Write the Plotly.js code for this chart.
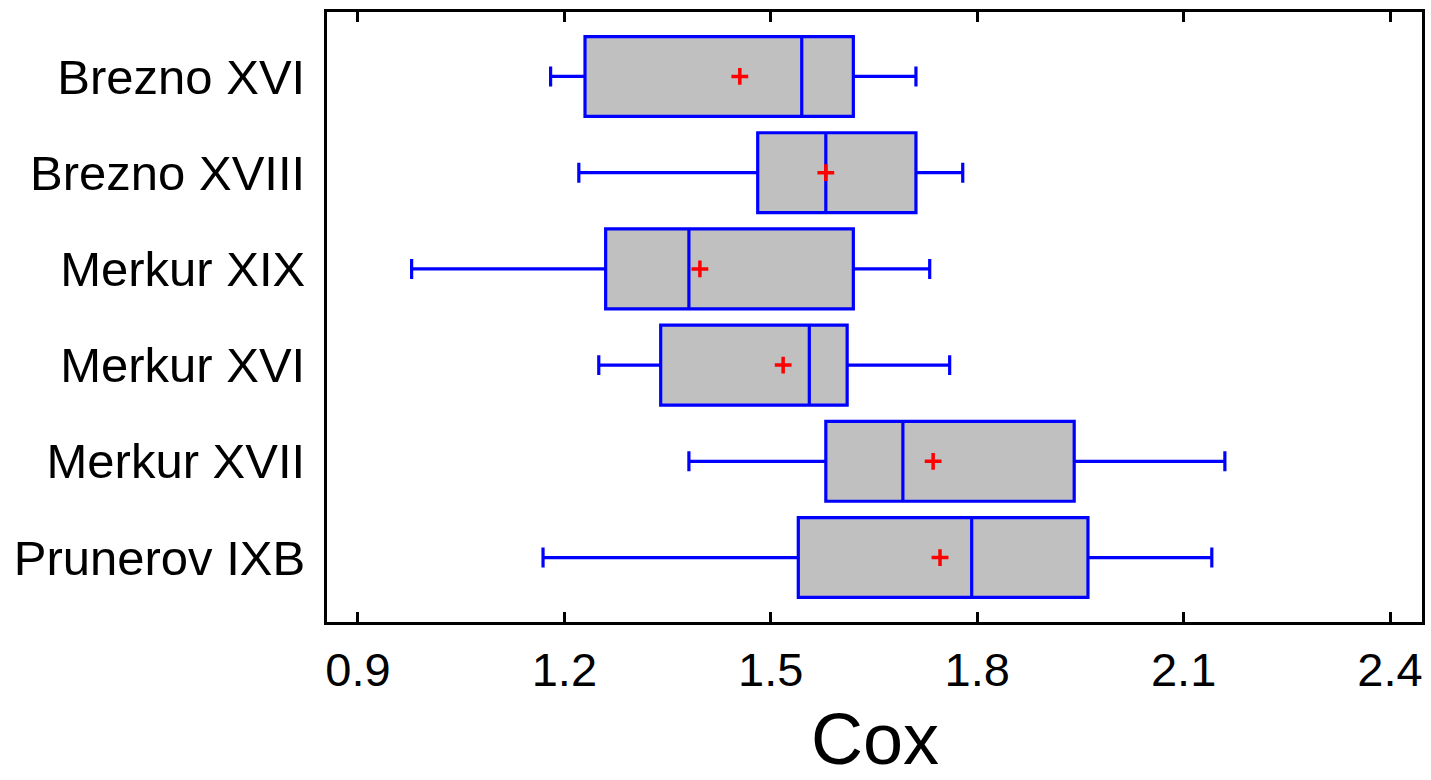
<!DOCTYPE html>
<html>
<head>
<meta charset="utf-8">
<script src="https://cdn.plot.ly/plotly-3.0.1.min.js"></script>
<style>
  html, body { margin: 0; padding: 0; background: #fff; }
  #chart { width: 1431px; height: 780px; }
</style>
</head>
<body>
<div id="chart"></div>
<script>
const categories = ["Brezno XVI", "Brezno XVIII", "Merkur XIX", "Merkur XVI", "Merkur XVII", "Prunerov IXB"];
const lowerWhisker = [1.180, 1.221, 0.978, 1.250, 1.381, 1.169];
const q1Values     = [1.230, 1.481, 1.260, 1.340, 1.580, 1.540];
const medianValues = [1.545, 1.580, 1.381, 1.556, 1.692, 1.792];
const q3Values     = [1.620, 1.711, 1.620, 1.611, 1.941, 1.961];
const upperWhisker = [1.711, 1.779, 1.731, 1.760, 2.160, 2.141];
const meanValues   = [1.455, 1.580, 1.397, 1.518, 1.736, 1.746];
const xTickValues  = [0.9, 1.2, 1.5, 1.8, 2.1, 2.4];
const xTickLabels  = ["0.9", "1.2", "1.5", "1.8", "2.1", "2.4"];
const xAxisTitle   = "Cox";

const boxTrace = {
  type: "box",
  orientation: "h",
  y: categories,
  q1: q1Values,
  median: medianValues,
  q3: q3Values,
  lowerfence: lowerWhisker,
  upperfence: upperWhisker,
  boxpoints: false,
  width: 0.83,
  whiskerwidth: 0.25,
  fillcolor: "rgb(192,192,192)",
  line: { color: "rgb(0,0,255)", width: 3.2 },
  hoverinfo: "skip",
  showlegend: false
};

const meanTrace = {
  type: "scatter",
  mode: "markers",
  x: meanValues,
  y: categories,
  marker: { symbol: "cross-thin", size: 12, color: "rgb(255,0,0)", line: { color: "rgb(255,0,0)", width: 3.5 } },
  hoverinfo: "skip",
  showlegend: false
};

const layout = {
  width: 1431,
  height: 780,
  margin: { l: 327, r: 9, t: 12, b: 158 },
  paper_bgcolor: "#fff",
  plot_bgcolor: "#fff",
  font: { family: "Liberation Sans, Arial, sans-serif", color: "#000" },
  showlegend: false,
  xaxis: {
    range: [0.855, 2.4465],
    tickvals: xTickValues,
    ticktext: xTickLabels,
    ticks: "inside",
    ticklen: 10,
    tickwidth: 3,
    tickcolor: "#000",
    showline: true,
    linewidth: 3,
    linecolor: "#000",
    mirror: "ticks",
    showgrid: false,
    zeroline: false,
    tickfont: { size: 47, color: "#000" },
    ticklabelstandoff: 5
  },
  yaxis: {
    type: "category",
    categoryorder: "array",
    categoryarray: categories,
    range: [5.67, -0.67],
    ticks: "",
    showline: true,
    linewidth: 3,
    linecolor: "#000",
    mirror: true,
    showgrid: false,
    zeroline: false,
    tickfont: { size: 49, color: "#000" },
    ticklabelstandoff: 9
  },
  annotations: [{
    text: xAxisTitle,
    xref: "paper", yref: "paper",
    x: 0.5, y: 0,
    xanchor: "center", yanchor: "middle",
    yshift: -117,
    showarrow: false,
    font: { size: 72, color: "#000" }
  }]
};

Plotly.newPlot("chart", [boxTrace, meanTrace], layout, { displayModeBar: false, staticPlot: true });
</script>
</body>
</html>
